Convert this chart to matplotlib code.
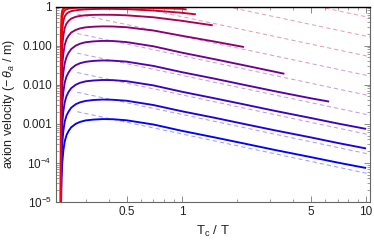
import matplotlib
matplotlib.use("Agg")
import matplotlib.pyplot as plt
from matplotlib.ticker import FixedLocator, FixedFormatter, NullFormatter

plt.rcParams['font.family'] = ['Liberation Sans', 'DejaVu Sans']
plt.rcParams['mathtext.fontset'] = 'custom'
plt.rcParams['mathtext.rm'] = 'Liberation Sans'
plt.rcParams['mathtext.it'] = 'Liberation Sans:italic'

# T_c / T sample points shared by all curves
tc_grid = [0.2195, 0.2205, 0.222, 0.224, 0.227, 0.231, 0.236, 0.242, 0.25, 0.265, 0.28,
           0.30, 0.33, 0.37, 0.42, 0.5, 0.7, 1.0, 1.5, 2.2, 3.2, 5.0, 7.0, 10.0]

# axion velocity for each curve (top/red -> bottom/blue)
vel_0 = [1e-7, 0.18, 0.58, 0.78, 0.88, 0.93, 0.95, 0.96, 0.97, 0.975, 0.98, 0.98, 0.98,
         0.98, 0.98, 0.978, 0.97]
vel_1 = [1e-7, 0.062, 0.31, 0.54, 0.70, 0.80, 0.85, 0.88, 0.905, 0.925, 0.935, 0.94,
         0.945, 0.95, 0.95, 0.94, 0.915, 0.87]
vel_2 = [1e-7, 0.0207, 0.12, 0.27, 0.43, 0.56, 0.65, 0.71, 0.76, 0.80, 0.825, 0.845,
         0.86, 0.87, 0.868, 0.855, 0.79, 0.69]
vel_3 = [1e-7, 0.0066, 0.041, 0.100, 0.182, 0.285, 0.365, 0.425, 0.488, 0.545, 0.575,
         0.598, 0.61, 0.615, 0.612, 0.595, 0.53, 0.43]
vel_4 = [1e-7, 0.0021, 0.013, 0.032, 0.063, 0.106, 0.145, 0.178, 0.215, 0.252, 0.276,
         0.293, 0.304, 0.31, 0.308, 0.295, 0.243, 0.178, 0.127]
vel_5 = [1e-7, 6.6e-4, 4.2e-3, 1.05e-2, 2.1e-2, 3.6e-2, 5.1e-2, 6.5e-2, 8.1e-2, 0.100,
         0.112, 0.122, 0.128, 0.132, 0.131, 0.123, 0.096, 0.066, 0.045, 0.031, 0.0214]
vel_6 = [1e-7, 2.1e-4, 1.32e-3, 3.3e-3, 6.6e-3, 1.15e-2, 1.62e-2, 2.04e-2, 2.57e-2,
         3.17e-2, 3.55e-2, 3.85e-2, 4.06e-2, 4.17e-2, 4.12e-2, 3.89e-2, 3.02e-2, 2.09e-2,
         1.43e-2, 9.8e-3, 6.8e-3, 4.5e-3]
vel_7 = [1e-7, 6.6e-5, 4.2e-4, 1.05e-3, 2.1e-3, 3.6e-3, 5.1e-3, 6.5e-3, 8.1e-3, 1.0e-2,
         1.12e-2, 1.22e-2, 1.28e-2, 1.32e-2, 1.31e-2, 1.23e-2, 9.6e-3, 6.6e-3, 4.5e-3,
         3.1e-3, 2.14e-3, 1.41e-3, 1.02e-3, 7.4e-4]
vel_8 = [1e-7, 2.1e-5, 1.32e-4, 3.3e-4, 6.6e-4, 1.15e-3, 1.62e-3, 2.04e-3, 2.57e-3,
         3.17e-3, 3.55e-3, 3.85e-3, 4.06e-3, 4.17e-3, 4.12e-3, 3.89e-3, 3.02e-3, 2.09e-3,
         1.43e-3, 9.8e-4, 6.8e-4, 4.5e-4, 3.24e-4, 2.34e-4]
vel_9 = [1e-7, 6.6e-6, 4.2e-5, 1.05e-4, 2.1e-4, 3.6e-4, 5.1e-4, 6.5e-4, 8.1e-4, 1.0e-3,
         1.12e-3, 1.22e-3, 1.28e-3, 1.32e-3, 1.31e-3, 1.23e-3, 9.6e-4, 6.6e-4, 4.5e-4,
         3.1e-4, 2.14e-4, 1.41e-4, 1.02e-4, 7.4e-5]
velocities = [vel_0, vel_1, vel_2, vel_3, vel_4, vel_5, vel_6, vel_7, vel_8, vel_9]

# where each curve stops (last point)
stop_x = [0.98, 1.06, 1.19, 1.47, 2.17, 3.6, 6.3, None, None, None]
stop_y = [0.96, 0.84, 0.63, 0.33, 0.092, 0.019, 3.7e-3, None, None, None]

# dashed guide lines: value at the left start and at the right edge
guide_x = [0.27, 10.5]
guide_lo = [64, 20.4, 6.4, 2.04, 0.64, 0.204, 6.4e-2, 2.04e-2, 6.4e-3, 2.04e-3]
guide_hi = [1.66, 0.52, 0.166, 5.2e-2, 1.66e-2, 5.2e-3, 1.66e-3, 5.2e-4, 1.66e-4, 5.2e-5]

xtick_major = [0.5, 1, 5, 10]
xtick_labels = ['0.5', '1', '5', '10']
xtick_minor = [0.3, 0.4, 0.6, 0.7, 0.8, 0.9, 2, 3, 4, 6, 7, 8, 9]
ytick_major = [1e-5, 1e-4, 1e-3, 1e-2, 1e-1, 1]
ytick_labels = [r'$10^{-5}$', r'$10^{-4}$', '0.001', '0.010', '0.100', '1']


def blend(k, n=9):
    t = k / n
    return (1 - t, 0.0, t)


fig = plt.figure(figsize=(3.74, 2.4), dpi=100)
ax = fig.add_axes([56 / 374, 1 - 202 / 240, 314 / 374, 195.5 / 240])

# dashed guides first (behind), pale versions of the curve colours
for k in range(len(guide_lo)):
    r, g, b = blend(k)
    s = 0.38
    light = (1 - s * (1 - r), 1 - s, 1 - s * (1 - b))
    ax.plot(guide_x, [guide_lo[k], guide_hi[k]], color=light, lw=0.75,
            dashes=(4, 3), zorder=1)

# solid curves, bottom first so red ends on top
for k in reversed(range(len(velocities))):
    ys = list(velocities[k])
    xs = tc_grid[:len(ys)]
    if stop_x[k] is not None:
        xs = xs + [stop_x[k]]
        ys = ys + [stop_y[k]]
    ax.plot(xs, ys, color=blend(k), lw=1.35 if k else 1.6, solid_capstyle='butt',
            zorder=2 + (9 - k) * 0.01)

ax.set_xscale('log')
ax.set_yscale('log')
ax.set_xlim(0.207, 10.5)
ax.set_ylim(1e-5, 1)

ax.xaxis.set_major_locator(FixedLocator(xtick_major))
ax.xaxis.set_major_formatter(FixedFormatter(xtick_labels))
ax.xaxis.set_minor_locator(FixedLocator(xtick_minor))
ax.xaxis.set_minor_formatter(NullFormatter())
ax.yaxis.set_major_locator(FixedLocator(ytick_major))
ax.yaxis.set_major_formatter(FixedFormatter(ytick_labels))
ax.yaxis.set_minor_locator(FixedLocator([m * 10.0 ** e for e in range(-5, 0) for m in range(2, 10)]))
ax.yaxis.set_minor_formatter(NullFormatter())

ax.tick_params(which='both', direction='in', top=True, right=True, color='#777777',
               labelsize=8.5, labelcolor='#222222', pad=3)
ax.tick_params(which='major', length=4, width=0.6)
ax.tick_params(which='minor', length=2.2, width=0.5)
for side in ['left', 'right', 'bottom']:
    ax.spines[side].set_color('#666666')
    ax.spines[side].set_linewidth(0.8)
ax.spines['top'].set_color('black')
ax.spines['top'].set_linewidth(1.0)

ax.set_xlabel(r'T$_\mathrm{c}$ / T', fontsize=9.5, color='#222222', labelpad=4)
ax.set_ylabel(r'axion velocity ($-\,\dot{\theta}_a$ / m)', fontsize=9, color='#222222',
              labelpad=3)

fig.savefig('out.png', dpi=100)
